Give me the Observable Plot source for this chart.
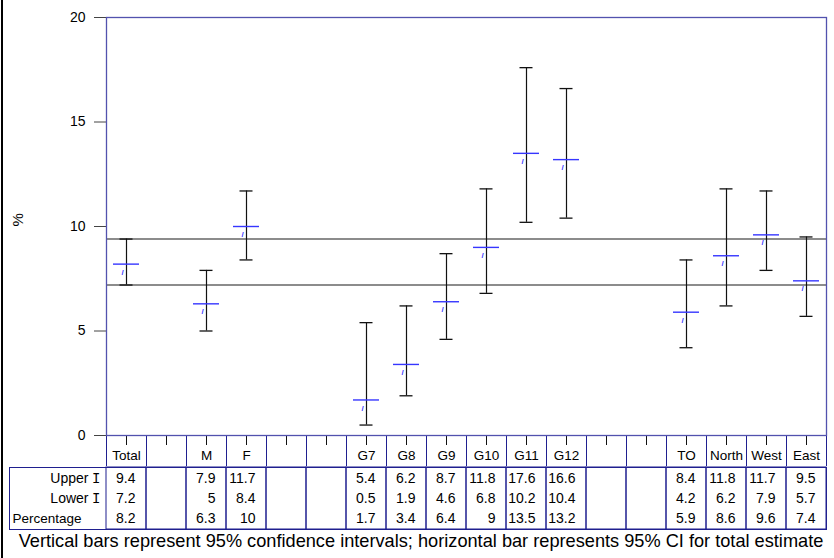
<!DOCTYPE html>
<html>
<head>
<meta charset="utf-8">
<script src="https://cdn.jsdelivr.net/npm/d3@7"></script>
<script src="https://cdn.jsdelivr.net/npm/@observablehq/plot@0.6"></script>
<style>
  html, body { margin: 0; padding: 0; background: #fff; }
  #wrap { position: relative; width: 834px; height: 558px; overflow: hidden; font-family: "Liberation Sans", Arial, sans-serif; }
  #edge { position: absolute; left: 1px; top: 0; width: 2px; height: 558px; background: #000; }
  #chart svg, #table svg { display: block; }
  #table { margin-top: -10px; position: relative; }
  #caption { width: 834px; padding-left: 8px; box-sizing: border-box; text-align: center; font-size: 18.2px; line-height: 22px; color: #000; white-space: nowrap; }
</style>
</head>
<body>
<div id="wrap">
  <div id="edge"></div>
  <div id="chart"></div>
  <div id="table"></div>
  <div id="caption">Vertical bars represent 95% confidence intervals; horizontal bar represents 95% CI for total estimate</div>
</div>
<script>
// Column slots along the x axis (blank slots are spacers)
const slots = ["Total","s1","M","F","s2","s3","G7","G8","G9","G10","G11","G12","s4","s5","TO","North","West","East"];
const categories = ["Total","M","F","G7","G8","G9","G10","G11","G12","TO","North","West","East"];
const upper = [9.4, 7.9, 11.7, 5.4, 6.2, 8.7, 11.8, 17.6, 16.6, 8.4, 11.8, 11.7, 9.5];
const lower = [7.2, 5, 8.4, 0.5, 1.9, 4.6, 6.8, 10.2, 10.4, 4.2, 6.2, 7.9, 5.7];
const percentage = [8.2, 6.3, 10, 1.7, 3.4, 6.4, 9, 13.5, 13.2, 5.9, 8.6, 9.6, 7.4];
const yTicks = [0, 5, 10, 15, 20];
const yLabel = "%";
const rowNames = ["Upper", "Lower", "Percentage"];

const navy = "#1f1f8f";
const frameBlue = "#5252ae";
const markBlue = "#3636ff";
const font = "'Liberation Sans', Arial, sans-serif";

const rows = categories.map((c, i) => ({cat: c, upper: upper[i], lower: lower[i], pct: percentage[i]}));
const cells = [];
rows.forEach(r => {
  cells.push({cat: r.cat, row: "Upper", value: r.upper});
  cells.push({cat: r.cat, row: "Lower", value: r.lower});
  cells.push({cat: r.cat, row: "Percentage", value: r.pct});
});

const chart = Plot.plot({
  width: 834, height: 476,
  marginTop: 17, marginBottom: 41, marginLeft: 106, marginRight: 8,
  style: {fontFamily: font, fontSize: "13px", background: "transparent", color: "#000"},
  x: {type: "band", domain: slots, padding: 0},
  y: {domain: [0, 20]},
  marks: [
    Plot.ruleY([lower[0], upper[0]], {stroke: "#666", strokeWidth: 1.5}),
    Plot.ruleX(rows, {x: "cat", y1: "lower", y2: "upper", stroke: "#111", strokeWidth: 1.2}),
    Plot.tickY(rows, {x: "cat", y: "upper", stroke: "#111", strokeWidth: 1.3, insetLeft: 13.5, insetRight: 13.5}),
    Plot.tickY(rows, {x: "cat", y: "lower", stroke: "#111", strokeWidth: 1.3, insetLeft: 13.5, insetRight: 13.5}),
    Plot.tickY(rows, {x: "cat", y: "pct", stroke: markBlue, strokeWidth: 1.4, insetLeft: 7, insetRight: 7}),
    Plot.text(rows, {x: "cat", y: "pct", text: () => "/", dx: -4, dy: 8, fill: markBlue, fontSize: 8, fontWeight: "bold"}),
    Plot.axisY({ticks: yTicks, tickSize: 12, tickFormat: () => "", stroke: "#444", label: null}),
    Plot.text(yTicks, {y: d => d, text: d => String(d), frameAnchor: "left", textAnchor: "end", dx: -21, fontSize: 14, fill: "#000"}),
    Plot.text([yLabel], {text: d => d, frameAnchor: "left", rotate: -90, dx: -88, fontSize: 15, fill: "#000"}),
    Plot.axisX({tickSize: 10, tickFormat: () => "", stroke: "#111", label: null}),
    Plot.text(categories, {x: d => d, text: d => d, frameAnchor: "bottom", dy: 24, fontSize: 13.5, fill: "#000"}),
    Plot.axisX({tickSize: 31, tickFormat: () => "", stroke: navy, dx: -20, label: null}),
    Plot.axisX({tickSize: 31, tickFormat: () => "", stroke: navy, dx: 20, label: null}),
    Plot.frame({stroke: frameBlue, strokeWidth: 1.3})
  ]
});
document.getElementById("chart").appendChild(chart);

const table = Plot.plot({
  width: 834, height: 64,
  marginTop: 1, marginBottom: 1, marginLeft: 9, marginRight: 8,
  style: {fontFamily: font, fontSize: "13px", background: "transparent", color: "#000"},
  x: {type: "band", domain: slots, range: [106, 826], padding: 0, axis: null},
  y: {type: "band", domain: rowNames, padding: 0, axis: null},
  marks: [
    Plot.cell(slots, {x: d => d, stroke: navy, fill: "none"}),
    Plot.frame({stroke: navy}),
    Plot.text(cells, {x: "cat", y: "row", text: "value", textAnchor: "end", dx: 9, fill: "#000", fontSize: 14}),
    Plot.text(["Upper", "Lower"], {y: d => d, text: d => d, frameAnchor: "left", textAnchor: "end", dx: 79, fill: "#000", fontSize: 14}),
    Plot.text(["Upper", "Lower"], {y: d => d, text: () => "I", frameAnchor: "left", textAnchor: "end", dx: 91, fill: "#000", fontSize: 14, fontFamily: "'Liberation Mono', 'DejaVu Sans Mono', monospace"}),
    Plot.text(["Percentage"], {y: d => d, text: d => d, frameAnchor: "left", textAnchor: "start", dx: 3, fill: "#000", fontSize: 13.5})
  ]
});
document.getElementById("table").appendChild(table);
</script>
</body>
</html>
